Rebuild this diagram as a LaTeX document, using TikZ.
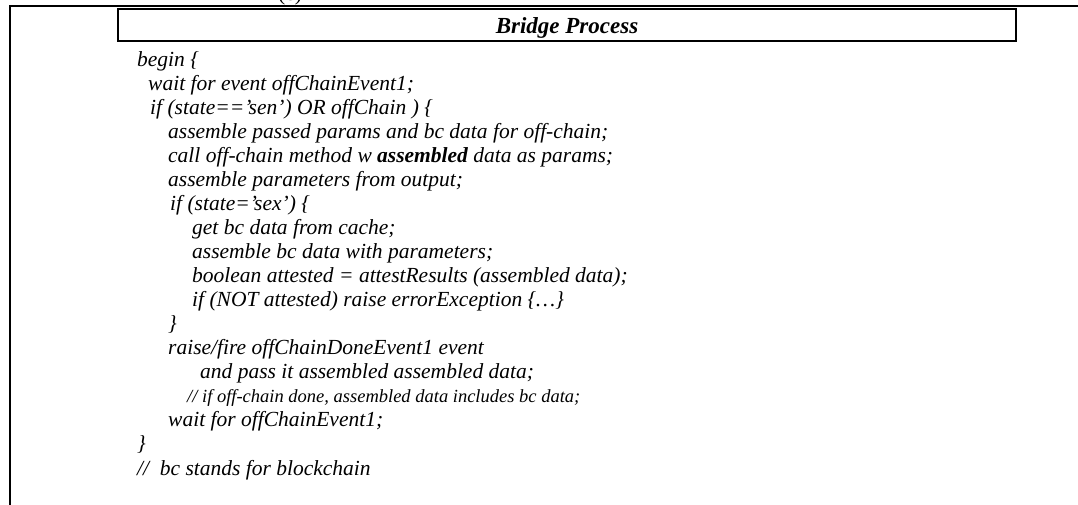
\documentclass[tikz,border=0pt]{standalone}
\usepackage{fontspec}
\setmainfont{Liberation Serif}
\begin{document}
\begin{tikzpicture}[x=1pt,y=-1pt,
  frameline/.style={line width=2pt, line join=miter},
  codefont/.style={font=\fontsize{21.5}{24}\selectfont\itshape},
  codeline/.style={codefont, anchor=base west, inner sep=0pt},
  notefont/.style={font=\fontsize{18.5}{22}\selectfont\itshape},
  titlebox/.style={draw, line width=2pt, minimum width=898pt, minimum height=32pt, inner sep=0pt},
  titletext/.style={anchor=base, inner sep=0pt, font=\fontsize{23}{26}\selectfont\bfseries\itshape}]
\useasboundingbox (0,0) rectangle (1078,504);

% caption of the panel, mostly above the page edge
\node[anchor=base, inner sep=0pt, font=\fontsize{21.5}{24}\selectfont] (cap) at (290,0.5) {(c)};

% outer frame: top rule and left rule
\coordinate (fbot) at (10,506);
\coordinate (fcorner) at (10,6);
\coordinate (fright) at (1080,6);
\draw[frameline] (fbot) -- (fcorner) -- (fright);

% title bar
\node[titlebox] (tbox) at (567,25) {};
\node[titletext] (title) at (567,33) {Bridge Process};

% pseudo-code body
\node[codeline] (l0)  at (137,66.0)  {begin \{};
\node[codeline] (l1)  at (148,90.1)  {wait for event offChainEvent1;};
\node[codeline] (l2)  at (150,114.1) {if (state==’sen’) OR offChain ) \{};
\node[codeline] (l3)  at (168,138.2) {assemble passed params and bc data for off-chain;};
\node[codeline] (l4)  at (168,162.2) {call off-chain method w \textbf{assembled} data as params;};
\node[codeline] (l5)  at (168,186.3) {assemble parameters from output;};
\node[codeline] (l6)  at (170,210.4) {if (state=’sex’) \{};
\node[codeline] (l7)  at (192,234.4) {get bc data from cache;};
\node[codeline] (l8)  at (192,258.5) {assemble bc data with parameters;};
\node[codeline] (l9)  at (192,282.5) {boolean attested = attestResults (assembled data);};
\node[codeline] (l10) at (192,306.6) {if (NOT attested) raise errorException \{…\}};
\node[codeline] (l11) at (168,330.7) {\}};
\node[codeline] (l12) at (168,354.7) {raise/fire offChainDoneEvent1 event};
\node[codeline] (l13) at (200,378.8) {and pass it assembled assembled data;};
\node[codeline, notefont] (l14) at (187,402.8) {// if off-chain done, assembled data includes bc data;};
\node[codeline] (l15) at (168,426.9) {wait for offChainEvent1;};
\node[codeline] (l16) at (137,450.9) {\}};
\node[codeline] (l17) at (137,475.0) {//\hspace{0.5em}bc stands for blockchain};
\end{tikzpicture}
\end{document}
